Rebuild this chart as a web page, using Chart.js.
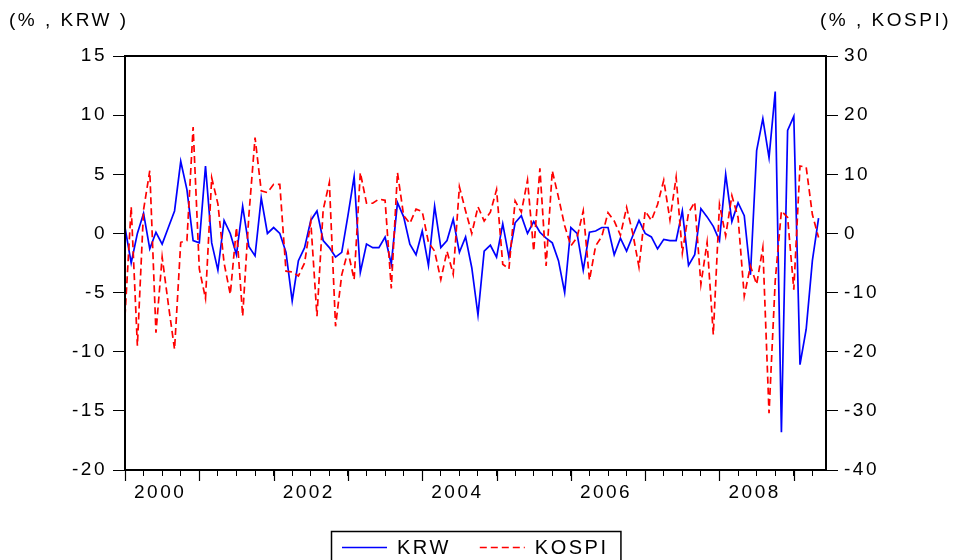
<!DOCTYPE html>
<html><head><meta charset="utf-8">
<script src="https://cdn.jsdelivr.net/npm/chart.js@4.4.1/dist/chart.umd.min.js"></script>
<style>html,body{margin:0;padding:0;background:#fff}canvas{display:block}</style>
</head><body>
<canvas id="c" width="955" height="560"></canvas>
<script>
// ---- data (monthly, 2000M01 .. 2009M05) ----
const startYear = 2000;
const yearLabels = ['2000', '2002', '2004', '2006', '2008'];
const seriesNames = ['KRW', 'KOSPI'];
const leftUnit = '(% , KRW )';
const rightUnit = '(% , KOSPI)';
const leftTicks = [-20, -15, -10, -5, 0, 5, 10, 15];
const rightTicks = [-40, -30, -20, -10, 0, 10, 20, 30];

const krw = [
  0.5, -2.5, 0.0, 1.7, -1.3, 0.1, -0.9, 0.5, 1.9, 6.1, 3.7, -0.6,
  -0.8, 5.7, -0.8, -3.1, 1.1, 0.0, -1.8, 2.3, -1.1, -1.9, 3.0, 0.0,
  0.5, 0.0, -1.6, -5.7, -2.3, -1.2, 1.1, 1.9, -0.6, -1.2, -2.0, -1.6,
  1.5, 4.8, -3.3, -0.9, -1.2, -1.2, -0.3, -2.6, 2.6, 1.4, -0.9, -1.8,
  0.2, -2.7, 2.3, -1.2, -0.6, 1.2, -1.6, -0.3, -2.9, -6.9, -1.5, -1.0,
  -2.0, 0.8, -2.0, 0.9, 1.5, 0.0, 1.0, 0.1, -0.4, -0.8, -2.3, -5.0,
  0.5, 0.0, -3.1, 0.1, 0.2, 0.5, 0.5, -1.8, -0.4, -1.5, -0.2, 1.1,
  0.0, -0.3, -1.3, -0.5, -0.6, -0.6, 1.9, -2.7, -1.8, 2.1, 1.4, 0.6,
  -0.6, 5.0, 1.0, 2.6, 1.5, -3.5, 7.0, 9.7, 6.4, 12.0, -16.8, 8.7,
  9.9, -11.1, -8.1, -2.3, 1.3
];
const kospi = [
  -14.0, 4.5, -19.0, 4.0, 10.6, -16.8, -4.0, -12.0, -19.6, -1.5, -1.2, 18.0,
  -6.0, -11.0, 9.4, 5.0, -5.0, -10.3, 1.0, -14.0, 3.0, 16.2, 7.2, 6.9,
  8.3, 8.3, -6.4, -6.5, -7.2, -5.0, 2.0, -14.0, 4.0, 8.6, -15.7, -7.0,
  -3.0, -7.8, 10.3, 5.1, 5.1, 5.8, 5.6, -9.3, 10.3, 3.0, 1.7, 4.1,
  3.7, -1.5, -3.0, -7.8, -3.0, -6.9, 7.9, 3.8, 0.0, 4.5, 2.1, 3.6,
  7.4, -5.2, -6.0, 5.5, 3.6, 9.0, -3.0, 11.0, -5.5, 10.6, 6.1, 1.3,
  -2.1, -0.7, 3.8, -7.9, -2.1, -0.5, 3.5, 2.1, -0.3, 4.4, 0.0, -5.7,
  3.8, 2.2, 4.9, 9.0, 2.3, 9.5, -3.3, 3.5, 5.3, -8.6, -1.5, -17.1,
  4.9, -0.4, 6.4, 2.7, -10.6, -5.5, -8.6, -2.4, -30.4, -8.0, 3.8, 2.7,
  -9.5, 11.4, 11.2, 3.2, -0.7
];

// ---- styling ----
const FONT = '"Liberation Sans", Arial, Helvetica, sans-serif';
const FS = 19;
const LFS = 20;
const LS = '2.5px';
const BLUE = '#0000ff';
const RED = '#ff0000';
const DASH = [7, 4];

const toPoints = arr => arr.map((v, i) => ({x: i, y: v}));

const spacingPlugin = {
  id: 'spacing',
  beforeLayout(chart) { chart.ctx.letterSpacing = LS; },
  beforeDraw(chart) {
    chart.ctx.letterSpacing = LS;
    const ctx = chart.ctx;
    ctx.save();
    ctx.fillStyle = '#fff';
    ctx.fillRect(0, 0, chart.width, chart.height);
    ctx.restore();
  }
};

const decoPlugin = {
  id: 'deco',
  afterDraw(chart) {
    const ctx = chart.ctx;
    const ca = chart.chartArea;
    const xs = chart.scales.x;
    ctx.save();
    ctx.letterSpacing = LS;
    // frame
    ctx.strokeStyle = '#000';
    ctx.lineWidth = 2;
    ctx.strokeRect(ca.left, ca.top, ca.right - ca.left, ca.bottom - ca.top);
    // major (year) ticks
    ctx.lineWidth = 1.2;
    for (let v = 0; v <= krw.length; v += 12) {
      const px = Math.round(xs.getPixelForValue(v)) + 0.5;
      ctx.beginPath();
      ctx.moveTo(px, ca.bottom);
      ctx.lineTo(px, ca.bottom + 11);
      ctx.stroke();
    }
    // axis unit titles
    ctx.fillStyle = '#000';
    ctx.font = FS + 'px ' + FONT;
    ctx.textBaseline = 'middle';
    ctx.textAlign = 'left';
    ctx.fillText(leftUnit, 9, 21);
    ctx.textAlign = 'right';
    ctx.fillText(rightUnit, 951, 21);
    // legend box
    ctx.font = LFS + 'px ' + FONT;
    const ds = chart.data.datasets;
    const sample = 45, gapT = 10, gapI = 29, padL = 11, padR = 12;
    const widths = ds.map(d => ctx.measureText(d.label).width);
    let total = padL + padR;
    widths.forEach((w, i) => { total += sample + gapT + w + (i < widths.length - 1 ? gapI : 0); });
    const cx = (ca.left + ca.right) / 2;
    const bx = Math.round(cx - total / 2);
    const by = 531, bh = 33, cy = 547;
    ctx.lineWidth = 1.5;
    ctx.strokeStyle = '#000';
    ctx.strokeRect(bx + 0.5, by + 0.5, total, bh);
    let x = bx + padL;
    ctx.textAlign = 'left';
    ds.forEach((d, i) => {
      ctx.beginPath();
      ctx.strokeStyle = d.borderColor;
      ctx.lineWidth = 1.5;
      ctx.setLineDash(d.borderDash || []);
      ctx.moveTo(x, cy + 0.5);
      ctx.lineTo(x + sample, cy + 0.5);
      ctx.stroke();
      ctx.setLineDash([]);
      x += sample + gapT;
      ctx.fillStyle = '#000';
      ctx.fillText(d.label, x, cy + 1);
      x += widths[i] + gapI;
    });
    ctx.restore();
  }
};

new Chart(document.getElementById('c'), {
  type: 'line',
  data: {
    datasets: [
      {
        label: seriesNames[0], data: toPoints(krw), yAxisID: 'y',
        borderColor: BLUE, backgroundColor: BLUE, borderWidth: 1.7,
        pointRadius: 0, tension: 0, order: 2
      },
      {
        label: seriesNames[1], data: toPoints(kospi), yAxisID: 'y1',
        borderColor: RED, backgroundColor: RED, borderWidth: 1.7, borderDash: DASH,
        pointRadius: 0, tension: 0, order: 1
      }
    ]
  },
  options: {
    responsive: false,
    animation: false,
    devicePixelRatio: 1,
    layout: {padding: {left: 0, right: 0, top: 56, bottom: 50}},
    plugins: {legend: {display: false}, tooltip: {enabled: false}},
    scales: {
      x: {
        type: 'linear', min: 0, max: 113.2,
        afterBuildTicks(scale) {
          const t = [];
          for (let v = 0; v < krw.length; v += 3) t.push({value: v});
          scale.ticks = t;
        },
        ticks: {
          autoSkip: false, maxRotation: 0, minRotation: 0, padding: 5, labelOffset: -2,
          color: '#000', font: {family: FONT, size: FS},
          callback(v) {
            if (v % 12 === 6) {
              const s = String(startYear + (v - 6) / 12);
              return yearLabels.includes(s) ? s : '';
            }
            return '';
          }
        },
        grid: {display: true, drawOnChartArea: false, drawTicks: true, tickLength: 6, color: '#000', lineWidth: 1},
        border: {display: true, color: '#000', width: 2},
        afterFit(scale) { scale.height = 40; }
      },
      y: {
        position: 'left', min: leftTicks[0], max: leftTicks[leftTicks.length - 1],
        afterBuildTicks(scale) { scale.ticks = leftTicks.map(v => ({value: v})); },
        ticks: {color: '#000', padding: 6, font: {family: FONT, size: FS}},
        grid: {display: true, drawOnChartArea: false, drawTicks: true, tickLength: 12, color: '#000', lineWidth: 1},
        border: {display: true, color: '#000', width: 2},
        afterFit(scale) { scale.width = 125; }
      },
      y1: {
        position: 'right', min: rightTicks[0], max: rightTicks[rightTicks.length - 1],
        afterBuildTicks(scale) { scale.ticks = rightTicks.map(v => ({value: v})); },
        ticks: {color: '#000', padding: 6, font: {family: FONT, size: FS}},
        grid: {display: true, drawOnChartArea: false, drawTicks: true, tickLength: 12, color: '#000', lineWidth: 1},
        border: {display: true, color: '#000', width: 2},
        afterFit(scale) { scale.width = 129; }
      }
    }
  },
  plugins: [spacingPlugin, decoPlugin]
});
</script>
</body></html>
